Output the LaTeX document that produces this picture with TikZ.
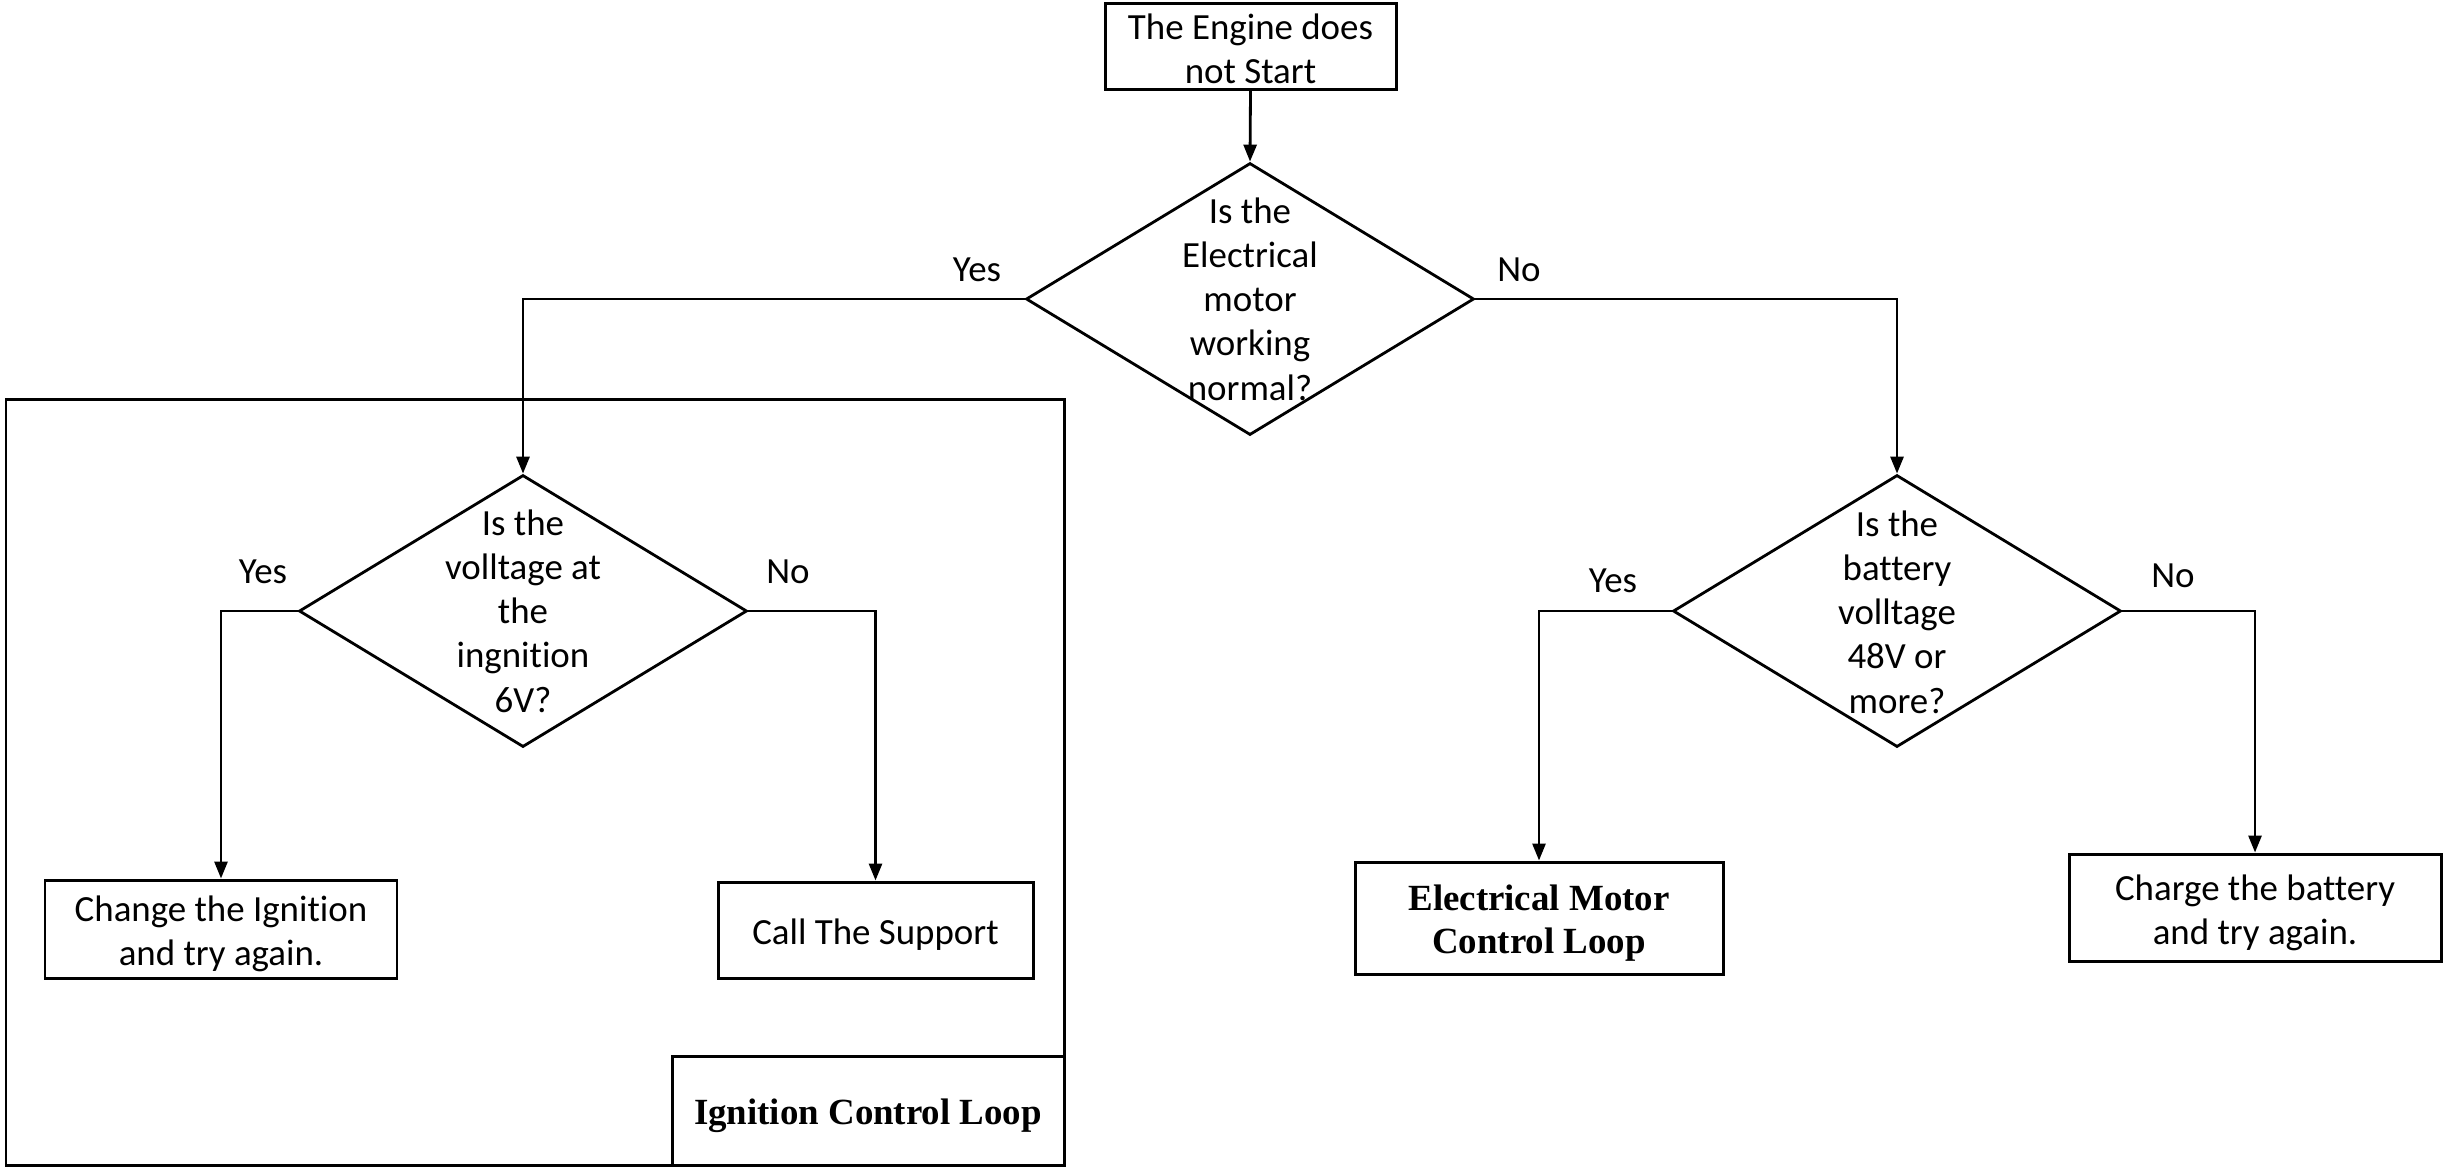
\documentclass[tikz,border=0pt]{standalone}
\usepackage{fontspec}
\setmainfont{Carlito}[Ligatures=NoCommon]
\newfontfamily\tnr{Liberation Serif}
\usetikzlibrary{shapes.geometric,arrows.meta}
\begin{document}
\begin{tikzpicture}[x=0.1mm,y=-0.1mm,
  every node/.style={font=\fontsize{10.5}{12.6}\selectfont},
  boxnode/.style={draw,line width=0.85pt,inner sep=0pt},
  btext/.style={align=center,inner sep=0pt,yshift=-0.5mm},
  dia/.style={draw,diamond,line width=0.8pt,inner sep=0pt,minimum width=44.8mm,minimum height=27.2mm},
  dtext/.style={align=center,inner sep=0pt},
  lbl/.style={inner sep=0pt},
  arr/.style={line width=0.8pt,-{Triangle[length=1.7mm,width=1.3mm]}},
  bold/.style={font=\tnr\bfseries\fontsize{10.5}{12.4}\selectfont}
]
\useasboundingbox (0,0) rectangle (2443,1167);

% frame of the ignition loop
\draw[line width=0.85pt] (6,399) rectangle (1064,1165);
\node[boxnode,minimum width=39.2mm,minimum height=10.9mm] (icl) at (868,1110.5) {};
\node[btext,bold] (iclt) at (icl) {Ignition Control Loop};

% top box
\node[boxnode,minimum width=29.1mm,minimum height=8.6mm] (start) at (1250.5,46) {};
\node[btext,yshift=0.2mm] (startt) at (start) {The Engine does\\not Start};

% diamonds
\node[dia] (d0) at (1250,299) {};
\node[dtext] (t0) at (1250,299) {Is the\\Electrical\\motor\\working\\normal?};
\node[dia] (d1) at (523,611) {};
\node[dtext] (t1) at (523,611) {Is the\\volltage at\\the\\ingnition\\6V?};
\node[dia] (d2) at (1897,611) {};
\node[dtext] (t2) at (1897,612) {Is the\\battery\\volltage\\48V or\\more?};

% result boxes
\node[boxnode,minimum width=35.2mm,minimum height=9.8mm] (b1) at (221,929) {};
\node[btext] (b1t) at (b1) {Change the Ignition\\and try again.};
\node[boxnode,minimum width=31.5mm,minimum height=9.6mm] (b2) at (875.5,930) {};
\node[btext] (b2t) at (b2) {Call The Support};
\node[boxnode,minimum width=36.8mm,minimum height=11.2mm] (b3) at (1539,918) {};
\node[btext,bold] (b3t) at (b3) {Electrical Motor\\Control Loop};
\node[boxnode,minimum width=37.2mm,minimum height=10.7mm] (b4) at (2255,907.5) {};
\node[btext] (b4t) at (b4) {Charge the battery\\and try again.};

% labels
\node[lbl] (y0) at (977,270) {Yes};
\node[lbl] (n0) at (1519,270) {No};
\node[lbl] (y1) at (263,572) {Yes};
\node[lbl] (n1) at (788,572) {No};
\node[lbl] (y2) at (1613,581) {Yes};
\node[lbl] (n2) at (2173,576) {No};

% connectors
\draw[arr] (start.south) -- (d0.north);
\draw[arr] (d0.west) -| (d1.north);
\draw[arr] (d0.east) -| (d2.north);
\draw[arr] (d1.west) -| (b1.north);
\draw[arr] (d1.east) -| (b2.north);
\draw[arr] (d2.west) -| (b3.north);
\draw[arr] (d2.east) -| (b4.north);
\end{tikzpicture}
\end{document}
